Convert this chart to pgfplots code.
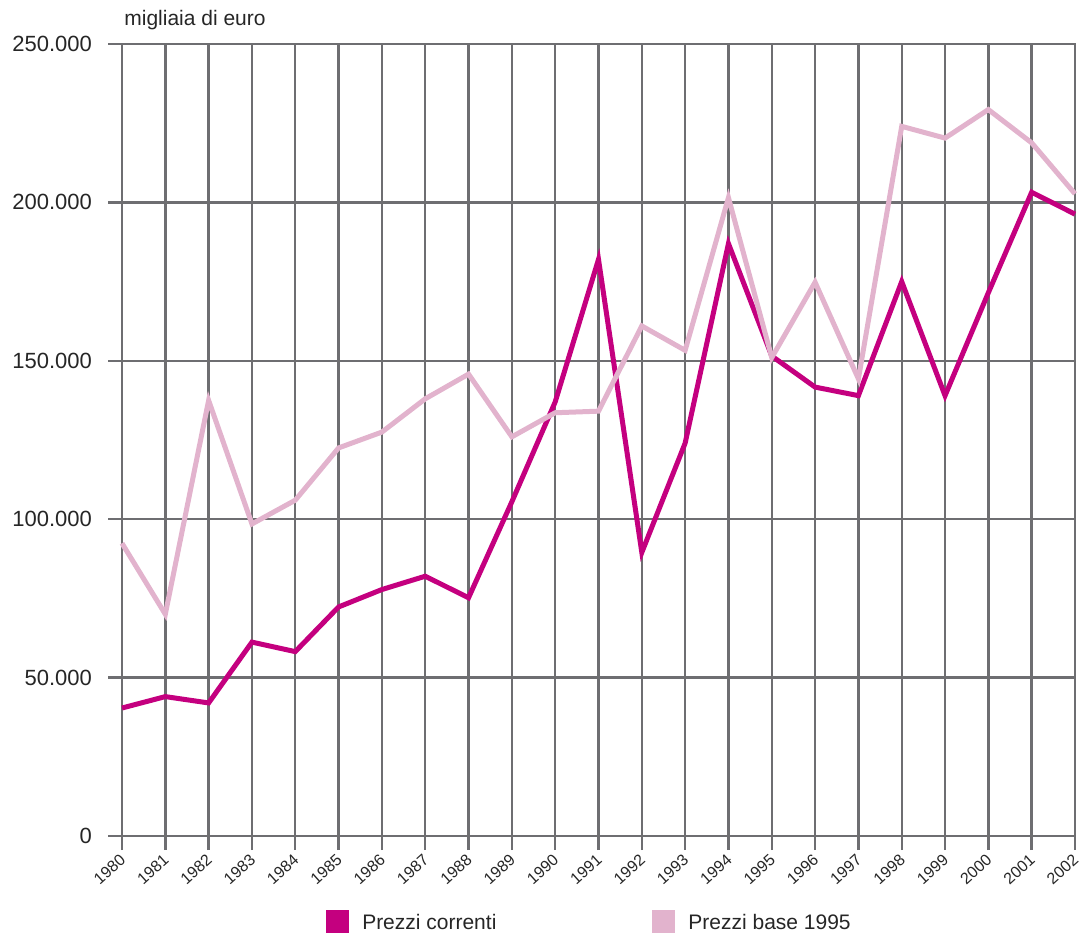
\documentclass[border=0pt]{standalone}
\usepackage{fontspec}
\setmainfont{Liberation Sans}
\usepackage{pgfplots}
\pgfplotsset{compat=1.18}
\definecolor{darkc}{HTML}{C4007F}
\definecolor{lightc}{HTML}{E2B3CD}
\definecolor{gridc}{HTML}{6E6E71}
\begin{document}
\begin{tikzpicture}
\path[use as bounding box] (-61pt,-48.5pt) rectangle (481pt,418pt);
\begin{axis}[
  at={(0,0)}, anchor=south west,
  scale only axis, width=476.5pt, height=396pt,
  xmin=1980, xmax=2002, ymin=0, ymax=250000,
  scaled y ticks=false, scaled x ticks=false,
  xtick={1980,1981,...,2002},
  xticklabels={1980,1981,1982,1983,1984,1985,1986,1987,1988,1989,1990,1991,1992,1993,1994,1995,1996,1997,1998,1999,2000,2001,2002},
  ytick={0,50000,100000,150000,200000,250000},
  yticklabels={0,50.000,100.000,150.000,200.000,250.000},
  grid=major,
  grid style={gridc, line width=1.2pt},
  axis line style={gridc, line width=1.2pt},
  tick style={gridc, line width=1.2pt},
  tick align=outside,
  tick pos=left,
  major tick length=7pt,
  yticklabel style={font=\fontsize{11}{13}\selectfont, color=black!85, xshift=-4.5pt},
  xticklabel style={font=\fontsize{8}{10}\selectfont, color=black!85, rotate=42, anchor=east, inner sep=1pt, xshift=-1pt, yshift=-3pt},
  clip=false,
  legend columns=2,
  legend cell align=left,
  legend style={at={(axis description cs:0.4916,0)}, anchor=center, yshift=-43.5pt, draw=none,
    font=\fontsize{10.5}{12}\selectfont, text=black!85,
    /tikz/every odd column/.append style={column sep=4.5pt},
    /tikz/every even column/.append style={column sep=76pt}},
]
\addplot[darkc, line width=2.5pt, line join=miter,
  legend image code/.code={\fill[darkc] (0pt,-4pt) rectangle (9pt,5pt);}]
coordinates {
(1980,40400) (1981,44000) (1982,42000) (1983,61200) (1984,58200) (1985,72300)
(1986,77800) (1987,82000) (1988,75200) (1989,105500) (1990,137000) (1991,182000)
(1992,89500) (1993,124000) (1994,187000) (1995,151500) (1996,141700) (1997,139000)
(1998,175000) (1999,139000) (2000,171500) (2001,203200) (2002,196300)
};
\addlegendentry{Prezzi correnti}
\addplot[lightc, line width=2.5pt, line join=miter,
  legend image code/.code={\fill[lightc] (0pt,-4pt) rectangle (9pt,5pt);}]
coordinates {
(1980,92400) (1981,70000) (1982,137500) (1983,98500) (1984,106000) (1985,122500)
(1986,127500) (1987,138000) (1988,145800) (1989,126000) (1990,133600) (1991,134100)
(1992,161000) (1993,153300) (1994,201500) (1995,151000) (1996,174800) (1997,144300)
(1998,224000) (1999,220300) (2000,229300) (2001,218800) (2002,202700)
};
\addlegendentry{Prezzi base 1995}
\node[anchor=base west, inner sep=0pt, font=\fontsize{10.5}{12}\selectfont, text=black!85, xshift=1pt, yshift=9pt] at (rel axis cs:0,1) {migliaia di euro};
\end{axis}
\end{tikzpicture}
\end{document}
